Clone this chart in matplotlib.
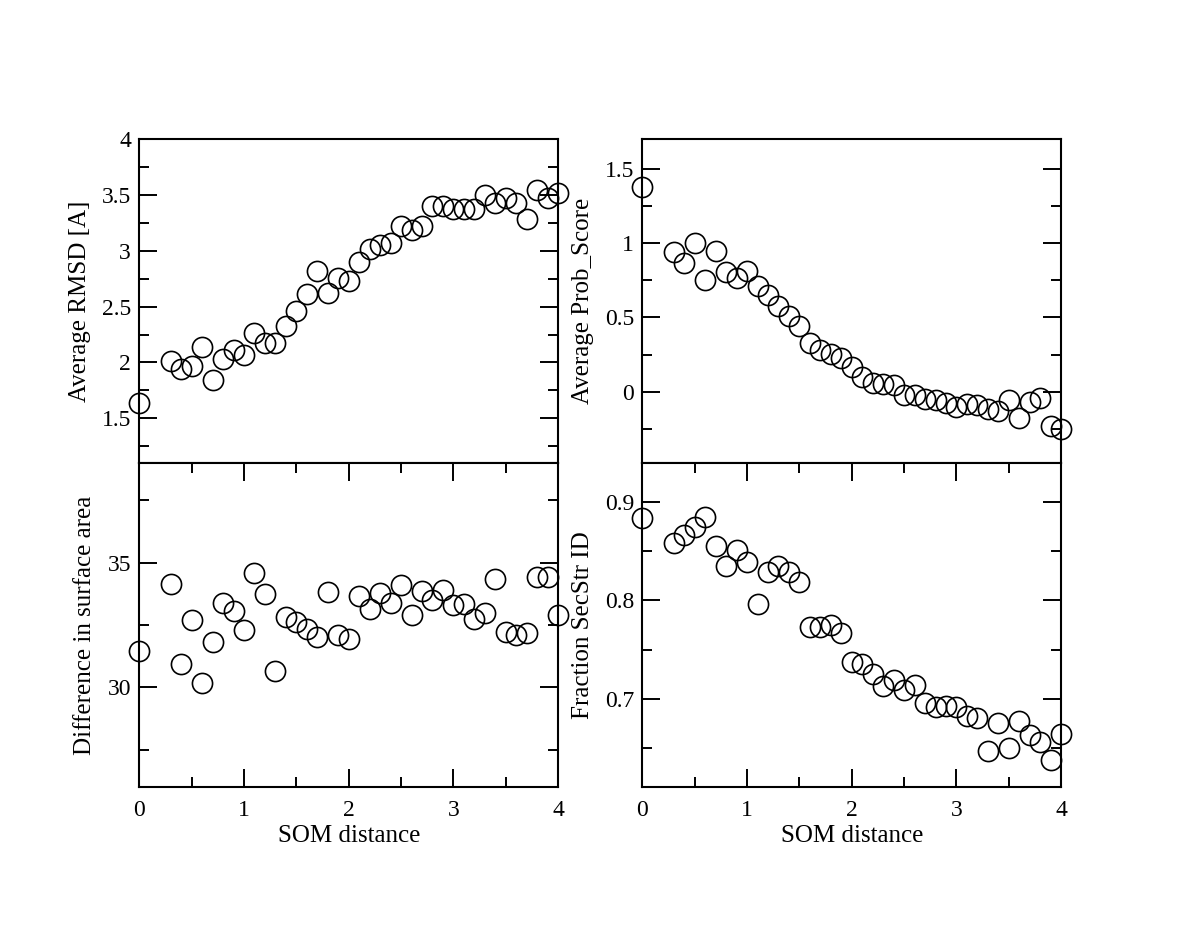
import matplotlib
matplotlib.use("Agg")
import matplotlib.pyplot as plt
from matplotlib.ticker import MultipleLocator, FormatStrFormatter

plt.rcParams['font.family'] = ['Liberation Serif', 'DejaVu Serif']

# --- data ---
som_dist = [0.0, 0.3, 0.4, 0.5, 0.6, 0.7, 0.8, 0.9, 1.0, 1.1, 1.2, 1.3, 1.4,
            1.5, 1.6, 1.7, 1.8, 1.9, 2.0, 2.1, 2.2, 2.3, 2.4, 2.5, 2.6, 2.7,
            2.8, 2.9, 3.0, 3.1, 3.2, 3.3, 3.4, 3.5, 3.6, 3.7, 3.8, 3.9, 4.0]

rmsd = [1.64, 2.01, 1.94, 1.97, 2.14, 1.84, 2.03, 2.11, 2.07, 2.26, 2.17, 2.17,
        2.33, 2.46, 2.61, 2.82, 2.62, 2.76, 2.73, 2.90, 3.02, 3.05, 3.07, 3.22,
        3.19, 3.22, 3.40, 3.40, 3.375, 3.37, 3.37, 3.50, 3.43, 3.47, 3.43, 3.28,
        3.54, 3.47, 3.52]

prob_score = [1.38, 0.94, 0.867, 1.00, 0.752, 0.945, 0.804, 0.768, 0.815, 0.712,
              0.651, 0.579, 0.510, 0.445, 0.328, 0.283, 0.254, 0.225, 0.164,
              0.097, 0.058, 0.052, 0.047, -0.022, -0.022, -0.049, -0.056,
              -0.079, -0.101, -0.083, -0.090, -0.117, -0.128, -0.056, -0.177,
              -0.072, -0.045, -0.234, -0.25]

surface_diff = [31.45, 34.16, 30.94, 32.72, 30.16, 31.82, 33.39, 33.06, 32.29,
                34.57, 33.73, 30.67, 32.83, 32.61, 32.36, 32.02, 33.82, 32.12,
                31.92, 33.66, 33.16, 33.77, 33.39, 34.10, 32.90, 33.86, 33.49,
                33.90, 33.32, 33.36, 32.75, 32.99, 34.33, 32.21, 32.12, 32.18,
                34.44, 34.44, 32.90]

secstr_id = [0.884, 0.859, 0.867, 0.875, 0.885, 0.855, 0.835, 0.851, 0.839,
             0.796, 0.829, 0.835, 0.829, 0.819, 0.773, 0.773, 0.775, 0.767,
             0.737, 0.735, 0.725, 0.713, 0.719, 0.709, 0.714, 0.696, 0.692,
             0.693, 0.692, 0.682, 0.680, 0.647, 0.675, 0.650, 0.677, 0.663,
             0.656, 0.638, 0.664]

fig = plt.figure(figsize=(12, 9.27), dpi=100)

W, H = 0.349, 0.3495
ax_tl = fig.add_axes([0.1161, 0.5005, W, H])
ax_bl = fig.add_axes([0.1161, 0.1510, W, H])
ax_tr = fig.add_axes([0.5353, 0.5005, W, H])
ax_br = fig.add_axes([0.5353, 0.1510, W, H])

panels = [
    (ax_tl, rmsd, "Average RMSD [A]", (1.1, 4.0), 0.5, 0.25, True),
    (ax_tr, prob_score, "Average Prob_Score", (-0.48, 1.7), 0.5, 0.25, True),
    (ax_bl, surface_diff, "Difference in surface area", (26, 39), 5, 2.5, False),
    (ax_br, secstr_id, "Fraction SecStr ID", (0.61, 0.94), 0.1, 0.05, False),
]

for ax, vals, label, ylim, major, minor, is_top in panels:
    ax.plot(som_dist, vals, ls="none", marker="o", ms=14.5, mfc="none",
            mec="black", mew=1.2, clip_on=False, zorder=3)
    ax.set_xlim(0, 4)
    ax.set_ylim(*ylim)
    ax.xaxis.set_major_locator(MultipleLocator(1))
    ax.xaxis.set_minor_locator(MultipleLocator(0.5))
    ax.yaxis.set_major_locator(MultipleLocator(major))
    ax.yaxis.set_minor_locator(MultipleLocator(minor))
    ax.yaxis.set_major_formatter(FormatStrFormatter("%g"))
    for s in ax.spines.values():
        s.set_linewidth(1.5)
    ax.tick_params(which="both", direction="in", width=1.4, left=True,
                   right=True, labelsize=17)
    ax.tick_params(which="major", length=13)
    ax.tick_params(which="minor", length=7)
    ax.tick_params(axis="y", which="major", pad=6)
    if is_top:
        ax.tick_params(axis="x", which="both", bottom=False, top=False,
                       labelbottom=False)
    else:
        ax.tick_params(axis="x", which="both", bottom=True, top=True,
                       labelbottom=True)
        ax.tick_params(axis="x", which="major", pad=9)
        ax.set_xlabel("SOM distance", fontsize=18, labelpad=3)
    ax.set_ylabel(label, fontsize=18, labelpad=8)

fig.savefig("out.png", dpi=100, facecolor="white")
